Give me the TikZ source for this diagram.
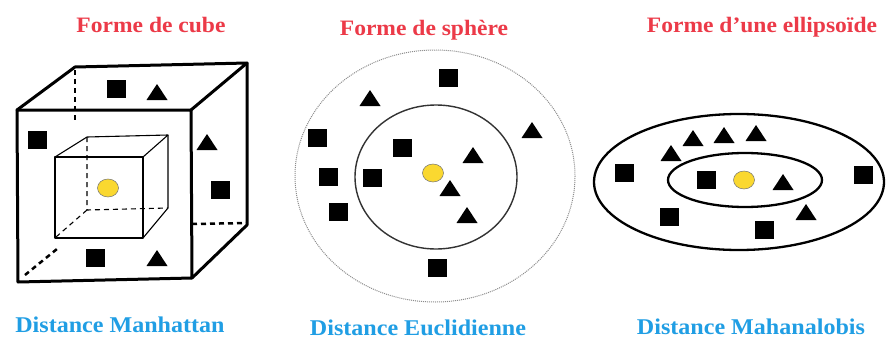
\documentclass[tikz,border=0pt]{standalone}
\usepackage{fontspec}
\setmainfont{Liberation Serif}[FakeStretch=1.07]
\definecolor{titlered}{RGB}{236,58,72}
\definecolor{titleblue}{RGB}{32,158,228}
\definecolor{dotyellow}{RGB}{250,216,48}
\tikzset{
  sq/.pic={\fill (-9.5,-9) rectangle (9.5,9);},
  tri/.pic={\fill (-10.5,8) -- (10.5,8) -- (0,-8) -- cycle;},
  ydot/.pic={\filldraw[fill=dotyellow,draw=black!55,line width=0.5pt] (0,0) ellipse (10.5 and 9);},
  rtitle/.style={text=titlered,font=\fontsize{22}{24}\selectfont\bfseries,inner sep=0pt},
  btitle/.style={text=titleblue,font=\fontsize{22.5}{24}\selectfont\bfseries,inner sep=0pt},
  thickedge/.style={line width=3pt,line join=round,line cap=round},
  thinedge/.style={line width=1.1pt,line join=round},
  hid/.style={dash pattern=on 5pt off 4pt}
}
\begin{document}
\begin{tikzpicture}[x=1pt,y=-1pt]
\useasboundingbox[fill=white] (0,0) rectangle (886,340);

% titles
\node[rtitle] (t1) at (151,25) {Forme de cube};
\node[rtitle] (t2) at (424,30) {Forme de sphère};
\node[rtitle] (t3) at (762,27) {Forme d'une ellipsoïde};
\node[btitle] (b1) at (120,325) {Distance Manhattan};
\node[btitle] (b2) at (418,328) {Distance Euclidienne};
\node[btitle] (b3) at (751,327) {Distance Mahanalobis};

% ---------- cube ----------
% outer cube
\draw[thickedge] (17,110) -- (191,110) -- (192,278) -- (18,282) -- cycle;
\draw[thickedge] (17,110) -- (75,67) -- (247,63) -- (191,110);
\draw[thickedge] (247,63) -- (247,225) -- (192,278);
\draw[line width=2.5pt,hid] (75,70) -- (75,122);
\draw[line width=2.5pt,hid] (192,224) -- (247,223);
\draw[line width=2.5pt,hid] (25,275) -- (57,249);
% inner cube
\draw[thinedge] (55,157) rectangle (143,238);
\draw[thinedge] (55,157) -- (87,137) -- (168,135) -- (143,157);
\draw[thinedge] (168,135) -- (168,208) -- (143,238);
\draw[line width=1.1pt,hid] (87,137) -- (87,210) -- (168,208);
\draw[line width=1.1pt,hid] (56,237) -- (87,210);
\pic at (108,188) {ydot};
\pic at (116,89) {sq};
\pic at (37,140) {sq};
\pic at (220,190) {sq};
\pic at (95,258) {sq};
\pic at (157,92) {tri};
\pic at (207,142) {tri};
\pic at (157,258) {tri};

% ---------- sphere ----------
\draw[black!45,line width=1pt,densely dotted] (435,176) ellipse (140 and 126);
\draw[black!80,line width=1.4pt] (436,177) ellipse (81 and 72);
\pic at (433,173) {ydot};
\pic at (448,78) {sq};
\pic at (317,138) {sq};
\pic at (402,148) {sq};
\pic at (328,177) {sq};
\pic at (372,178) {sq};
\pic at (338,212) {sq};
\pic at (437,268) {sq};
\pic at (370,98) {tri};
\pic at (532,130) {tri};
\pic at (473,155) {tri};
\pic at (450,188) {tri};
\pic at (467,215) {tri};

% ---------- ellipsoid ----------
\draw[line width=2.3pt] (739,182) ellipse (145 and 68);
\draw[line width=2.3pt] (745,180) ellipse (77 and 27);
\pic at (744,180) {ydot};
\pic at (624,173) {sq};
\pic at (706,180) {sq};
\pic at (863,175) {sq};
\pic at (669,217) {sq};
\pic at (764,230) {sq};
\pic at (693,138) {tri};
\pic at (724,135) {tri};
\pic at (756,133) {tri};
\pic at (671,153) {tri};
\pic at (783,182) {tri};
\pic at (806,212) {tri};
\end{tikzpicture}
\end{document}
